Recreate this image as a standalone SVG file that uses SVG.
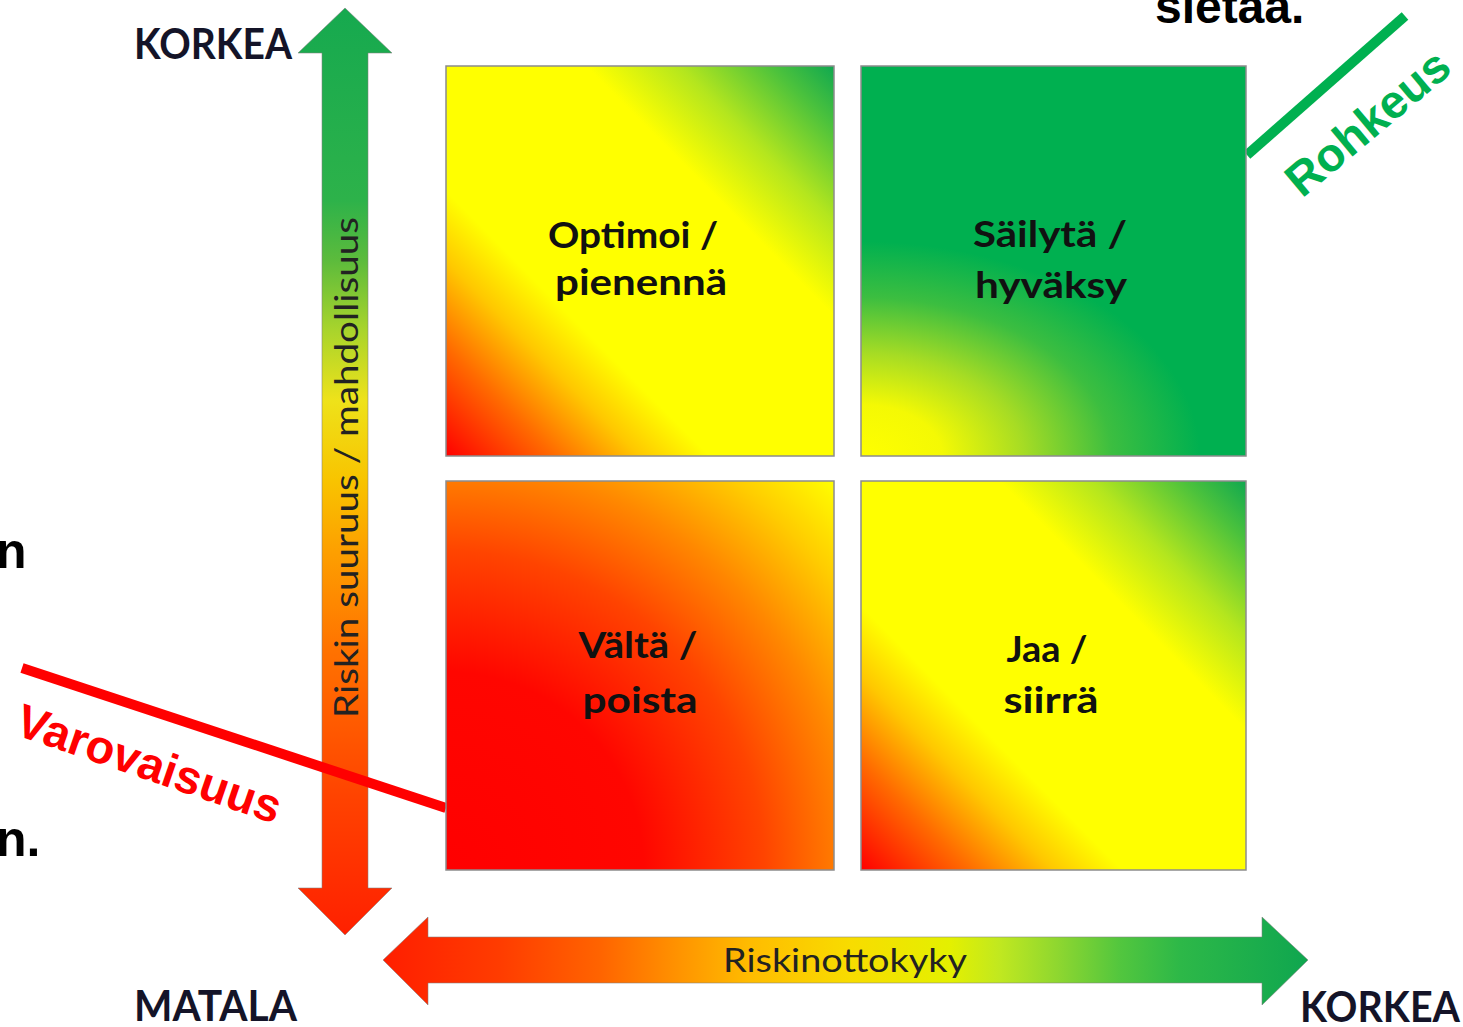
<svg xmlns="http://www.w3.org/2000/svg" width="1463" height="1027" viewBox="0 0 1463 1027">
  <defs>
    <linearGradient id="gV" gradientUnits="userSpaceOnUse" x1="0" y1="8" x2="0" y2="935">
      <stop offset="0" stop-color="#16a94f"/>
      <stop offset="0.207" stop-color="#2db24a"/>
      <stop offset="0.272" stop-color="#5cbb3c"/>
      <stop offset="0.347" stop-color="#a8d42c"/>
      <stop offset="0.423" stop-color="#eee21a"/>
      <stop offset="0.509" stop-color="#f8c400"/>
      <stop offset="0.585" stop-color="#fda000"/>
      <stop offset="0.693" stop-color="#ff7200"/>
      <stop offset="0.854" stop-color="#ff4200"/>
      <stop offset="1" stop-color="#ff2000"/>
    </linearGradient>
    <linearGradient id="gH" gradientUnits="userSpaceOnUse" x1="383" y1="0" x2="1308" y2="0">
      <stop offset="0" stop-color="#ff1e00"/>
      <stop offset="0.126" stop-color="#ff3c00"/>
      <stop offset="0.235" stop-color="#ff6400"/>
      <stop offset="0.321" stop-color="#ff9400"/>
      <stop offset="0.397" stop-color="#ffbc00"/>
      <stop offset="0.505" stop-color="#f8dc00"/>
      <stop offset="0.613" stop-color="#e4f000"/>
      <stop offset="0.667" stop-color="#c0e820"/>
      <stop offset="0.732" stop-color="#8cd630"/>
      <stop offset="0.797" stop-color="#52c63e"/>
      <stop offset="0.862" stop-color="#2db848"/>
      <stop offset="1" stop-color="#0fa64f"/>
    </linearGradient>
    <linearGradient id="gDiag" x1="0" y1="1" x2="1" y2="0">
      <stop offset="0" stop-color="#ff0000"/>
      <stop offset="0.14" stop-color="#ff6a00"/>
      <stop offset="0.25" stop-color="#ffc800"/>
      <stop offset="0.34" stop-color="#ffff00"/>
      <stop offset="0.68" stop-color="#ffff00"/>
      <stop offset="0.8" stop-color="#b4e61e"/>
      <stop offset="0.92" stop-color="#4cc23c"/>
      <stop offset="1" stop-color="#10a850"/>
    </linearGradient>
    <radialGradient id="gGreen" cx="0" cy="1" r="0.55" fx="0" fy="1" gradientTransform="translate(0 1) scale(1.6 1) translate(0 -1)">
      <stop offset="0" stop-color="#ffff00"/>
      <stop offset="0.24" stop-color="#f4f904"/>
      <stop offset="0.48" stop-color="#a6dc24"/>
      <stop offset="0.74" stop-color="#3cbe40"/>
      <stop offset="1" stop-color="#00b050"/>
    </radialGradient>
    <radialGradient id="gRed" cx="0" cy="1" r="1.414" fx="0" fy="1">
      <stop offset="0" stop-color="#ff0000"/>
      <stop offset="0.36" stop-color="#ff0600"/>
      <stop offset="0.58" stop-color="#ff4400"/>
      <stop offset="0.74" stop-color="#ff8800"/>
      <stop offset="0.88" stop-color="#ffcc00"/>
      <stop offset="1" stop-color="#ffff00"/>
    </radialGradient>
    <style>
      .quad { stroke: #8c8c8c; stroke-width: 1.5; }
      .arrow { stroke: #808080; stroke-opacity: 0.55; stroke-width: 1; }
      .qlabel { font-family: Lato, "Open Sans", sans-serif; font-weight: 700; font-size: 36px; fill: #111111; text-anchor: middle; }
      .axislabel { font-family: Lato, "Open Sans", sans-serif; font-weight: 700; font-size: 42px; fill: #141428; }
      .axistext { font-family: Lato, "Open Sans", sans-serif; font-weight: 400; font-size: 33px; fill: #222222; text-anchor: middle; }
      .edge { font-family: "Liberation Sans", Arial, sans-serif; font-weight: 700; fill: #000000; }
      .annot { font-family: "Liberation Sans", Arial, sans-serif; font-weight: 700; text-anchor: middle; }
    </style>
  </defs>
  <rect width="1463" height="1027" fill="#ffffff"/>

  <g id="edge-text">
    <text class="edge" x="1155" y="23" font-size="48">sietää.</text>
    <text class="edge" x="-4" y="568" font-size="50">n</text>
    <text class="edge" x="-4" y="856" font-size="50">n.</text>
  </g>

  <g id="axis-vertical">
    <path class="arrow" fill="url(#gV)" d="M345 8 L392 53 L368 53 L368 888 L392 888 L345 935 L298 888 L322 888 L322 53 L298 53 Z"/>
    <text class="axistext" transform="translate(358 467.5) rotate(-90)" x="0" y="0" textLength="501" lengthAdjust="spacingAndGlyphs">Riskin suuruus / mahdollisuus</text>
  </g>

  <g id="axis-horizontal">
    <path class="arrow" fill="url(#gH)" d="M383 960 L428 917 L428 937 L1262 937 L1262 917 L1308 960 L1262 1005 L1262 983 L428 983 L428 1005 Z"/>
    <text class="axistext" x="845" y="972" textLength="244" lengthAdjust="spacingAndGlyphs">Riskinottokyky</text>
  </g>

  <g id="axis-labels">
    <text class="axislabel" x="134" y="59" textLength="158" lengthAdjust="spacingAndGlyphs">KORKEA</text>
    <text class="axislabel" x="134" y="1021" textLength="163" lengthAdjust="spacingAndGlyphs">MATALA</text>
    <text class="axislabel" x="1300" y="1022" textLength="160" lengthAdjust="spacingAndGlyphs">KORKEA</text>
  </g>

  <g id="connectors">
    <line x1="22" y1="668" x2="446" y2="808" stroke="#ff0000" stroke-width="10"/>
    <line x1="1247" y1="155" x2="1405" y2="16" stroke="#00b050" stroke-width="10"/>
  </g>

  <g id="q-optimoi">
    <rect class="quad" x="446" y="66" width="388" height="390" fill="url(#gDiag)"/>
    <text class="qlabel" x="633" y="248" textLength="170" lengthAdjust="spacingAndGlyphs">Optimoi /</text>
    <text class="qlabel" x="641" y="295" textLength="172" lengthAdjust="spacingAndGlyphs">pienennä</text>
  </g>

  <g id="q-sailyta">
    <rect class="quad" x="861" y="66" width="385" height="390" fill="url(#gGreen)"/>
    <text class="qlabel" x="1050" y="247" textLength="154" lengthAdjust="spacingAndGlyphs">Säilytä /</text>
    <text class="qlabel" x="1051" y="298" textLength="152" lengthAdjust="spacingAndGlyphs">hyväksy</text>
  </g>

  <g id="q-valta">
    <rect class="quad" x="446" y="481" width="388" height="389" fill="url(#gRed)"/>
    <text class="qlabel" x="638" y="658" textLength="119" lengthAdjust="spacingAndGlyphs">Vältä /</text>
    <text class="qlabel" x="640" y="713" textLength="115" lengthAdjust="spacingAndGlyphs">poista</text>
  </g>

  <g id="q-jaa">
    <rect class="quad" x="861" y="481" width="385" height="389" fill="url(#gDiag)"/>
    <text class="qlabel" x="1047" y="662" textLength="81" lengthAdjust="spacingAndGlyphs">Jaa /</text>
    <text class="qlabel" x="1051" y="713" textLength="95" lengthAdjust="spacingAndGlyphs">siirrä</text>
  </g>

  <g id="annotations">
    <text class="annot" font-size="47" fill="#ff0000" transform="translate(144 779) rotate(19)">Varovaisuus</text>
    <text class="annot" font-size="47" fill="#00b050" transform="translate(1378 135) rotate(-40)">Rohkeus</text>
  </g>
</svg>
